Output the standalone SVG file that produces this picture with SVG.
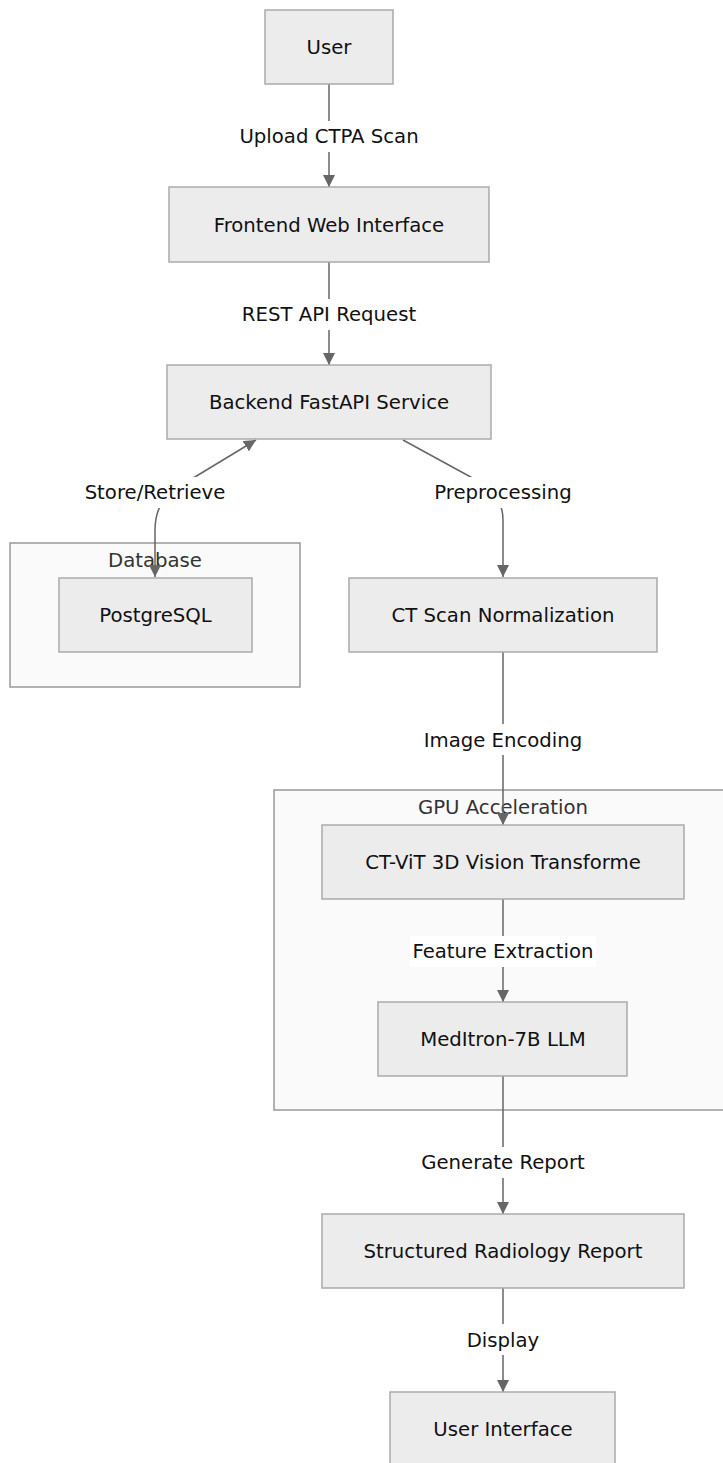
<svg xmlns="http://www.w3.org/2000/svg" width="723" height="1463" viewBox="0 0 723 1463">
<defs>
<style>
.node rect{fill:#ECECEC;stroke:#aaaaaa;stroke-width:1.5}
.cluster rect{fill:#fafafa;stroke:#999999;stroke-width:1.5}
text{font-family:"DejaVu Sans",Verdana,sans-serif;font-size:19.7px;text-anchor:middle;dominant-baseline:central}
.node text{fill:#111}
.cluster text{fill:#333}
.edge{fill:none;stroke:#666666;stroke-width:1.5}
.lbl rect{fill:#ffffff}
.lbl text{fill:#111}
</style>
<marker id="arr" viewBox="0 0 10 10" refX="10" refY="5" markerWidth="12" markerHeight="12" markerUnits="userSpaceOnUse" orient="auto">
<path d="M0,0 L10,5 L0,10 z" fill="#666666"/>
</marker>
<marker id="arrs" viewBox="0 0 10 10" refX="0" refY="5" markerWidth="12" markerHeight="12" markerUnits="userSpaceOnUse" orient="auto">
<path d="M10,0 L0,5 L10,10 z" fill="#666666"/>
</marker>
</defs>
<rect width="723" height="1463" fill="#ffffff"/>
<g id="cluster-database" class="cluster">
<rect x="10" y="543" width="290" height="144"/>
<text x="155" y="560">Database</text>
</g>
<g id="cluster-gpu" class="cluster">
<rect x="274" y="790" width="460" height="320"/>
<text x="503" y="807">GPU Acceleration</text>
</g>
<g id="connectors">
<path class="edge" d="M329,84 L329,187" marker-end="url(#arr)"/>
<path class="edge" d="M329,262 L329,365" marker-end="url(#arr)"/>
<path class="edge" d="M155,577 L155,530 Q155,500 180,486 L256,440" marker-start="url(#arrs)" marker-end="url(#arr)"/>
<path class="edge" d="M403,440 L478,481 Q503,495 503,520 L503,577" marker-end="url(#arr)"/>
<path class="edge" d="M503,652 L503,825" marker-end="url(#arr)"/>
<path class="edge" d="M503,899 L503,1002" marker-end="url(#arr)"/>
<path class="edge" d="M503,1076 L503,1214" marker-end="url(#arr)"/>
<path class="edge" d="M503,1288 L503,1392" marker-end="url(#arr)"/>
</g>
<g id="edge-labels">
<g class="lbl"><rect x="239" y="121" width="180" height="31"/><text x="329" y="136">Upload CTPA Scan</text></g>
<g class="lbl"><rect x="242" y="299" width="174" height="31"/><text x="329" y="314">REST API Request</text></g>
<g class="lbl"><rect x="79" y="477" width="152" height="31"/><text x="155" y="492">Store/Retrieve</text></g>
<g class="lbl"><rect x="433" y="477" width="140" height="31"/><text x="503" y="492">Preprocessing</text></g>
<g class="lbl"><rect x="424" y="724" width="158" height="31"/><text x="503" y="740">Image Encoding</text></g>
<g class="lbl"><rect x="410" y="936" width="186" height="31"/><text x="503" y="951">Feature Extraction</text></g>
<g class="lbl"><rect x="418" y="1147" width="170" height="31"/><text x="503" y="1162">Generate Report</text></g>
<g class="lbl"><rect x="466" y="1324" width="74" height="31"/><text x="503" y="1340">Display</text></g>
</g>
<g id="node-user" class="node"><rect x="265" y="10" width="128" height="74"/><text x="329" y="47">User</text></g>
<g id="node-frontend" class="node"><rect x="169" y="187" width="320" height="75"/><text x="329" y="225">Frontend Web Interface</text></g>
<g id="node-backend" class="node"><rect x="167" y="365" width="324" height="74"/><text x="329" y="402">Backend FastAPI Service</text></g>
<g id="node-postgres" class="node"><rect x="59" y="578" width="193" height="74"/><text x="155.5" y="615">PostgreSQL</text></g>
<g id="node-ctnorm" class="node"><rect x="349" y="578" width="308" height="74"/><text x="503" y="615">CT Scan Normalization</text></g>
<g id="node-ctvit" class="node"><rect x="322" y="825" width="362" height="74"/><text x="503" y="862">CT-ViT 3D Vision Transforme</text></g>
<g id="node-meditron" class="node"><rect x="378" y="1002" width="249" height="74"/><text x="503" y="1039">MedItron-7B LLM</text></g>
<g id="node-report" class="node"><rect x="322" y="1214" width="362" height="74"/><text x="503" y="1251">Structured Radiology Report</text></g>
<g id="node-ui" class="node"><rect x="390" y="1392" width="225" height="74"/><text x="503" y="1429">User Interface</text></g>
</svg>
